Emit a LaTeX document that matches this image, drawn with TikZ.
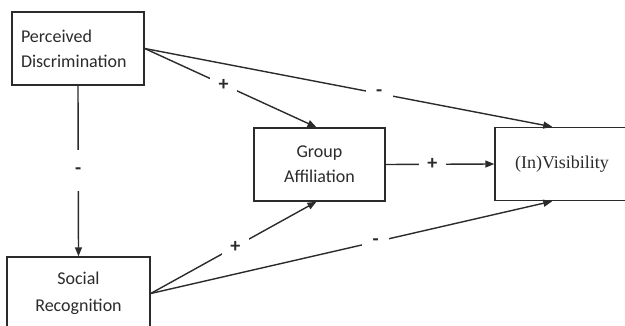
\documentclass[tikz,border=0pt]{standalone}
\usepackage{fontspec}
\setmainfont{Carlito}
\newfontfamily\serifcambria{Liberation Serif}
\usetikzlibrary{arrows.meta,calc}
\definecolor{ink}{HTML}{2B2B2B}
\begin{document}
\begin{tikzpicture}[x=1pt,y=-1pt,
  box/.style={draw=ink,line width=1.4pt,rectangle,minimum height=73pt,inner sep=0pt,text=ink,font=\fontsize{18}{25}\selectfont,align=center},
  arr/.style={draw=ink,line width=1.4pt,-{Triangle[length=9pt,width=7pt]}},
  lbl/.style={fill=white,text=ink,font=\bfseries\fontsize{20}{20}\selectfont,inner sep=0pt,minimum width=27pt,minimum height=24pt}]
\useasboundingbox (0,0) rectangle (625,326);
\clip (0,0) rectangle (625,326);
\fill[white] (0,0) rectangle (625,326);
\node[box,minimum width=132pt,text width=114pt,align=left] (pd) at (78,48.5) {Perceived\\Discrimination};
\node[box,minimum width=143pt,font=\fontsize{18}{27}\selectfont] (sr) at (78.5,293.5) {Social\\Recognition};
\node[box,minimum width=131pt] (ga) at (319.5,164.5) {Group\\Affiliation};
\node[box,minimum width=134pt,font=\serifcambria\fontsize{18}{22}\selectfont] (inv) at (562,164) {(In)Visibility};
\draw[arr] (pd.south) -- node[lbl,minimum height=41pt,pos=0.5]{-} (sr.north);
\draw[arr] (pd.east) -- node[lbl,pos=0.46]{+} ([xshift=-3pt]ga.north);
\draw[arr] (pd.east) -- node[lbl,pos=0.575]{-} ([xshift=58pt]inv.north west);
\draw[arr] (ga.east) -- node[lbl,pos=0.43]{+} (inv.west);
\draw[arr] (sr.east) -- node[lbl,pos=0.51]{+} ([xshift=-3pt]ga.south);
\draw[arr] (sr.east) -- node[lbl,pos=0.56]{-} ([xshift=58pt]inv.south west);
\end{tikzpicture}
\end{document}
